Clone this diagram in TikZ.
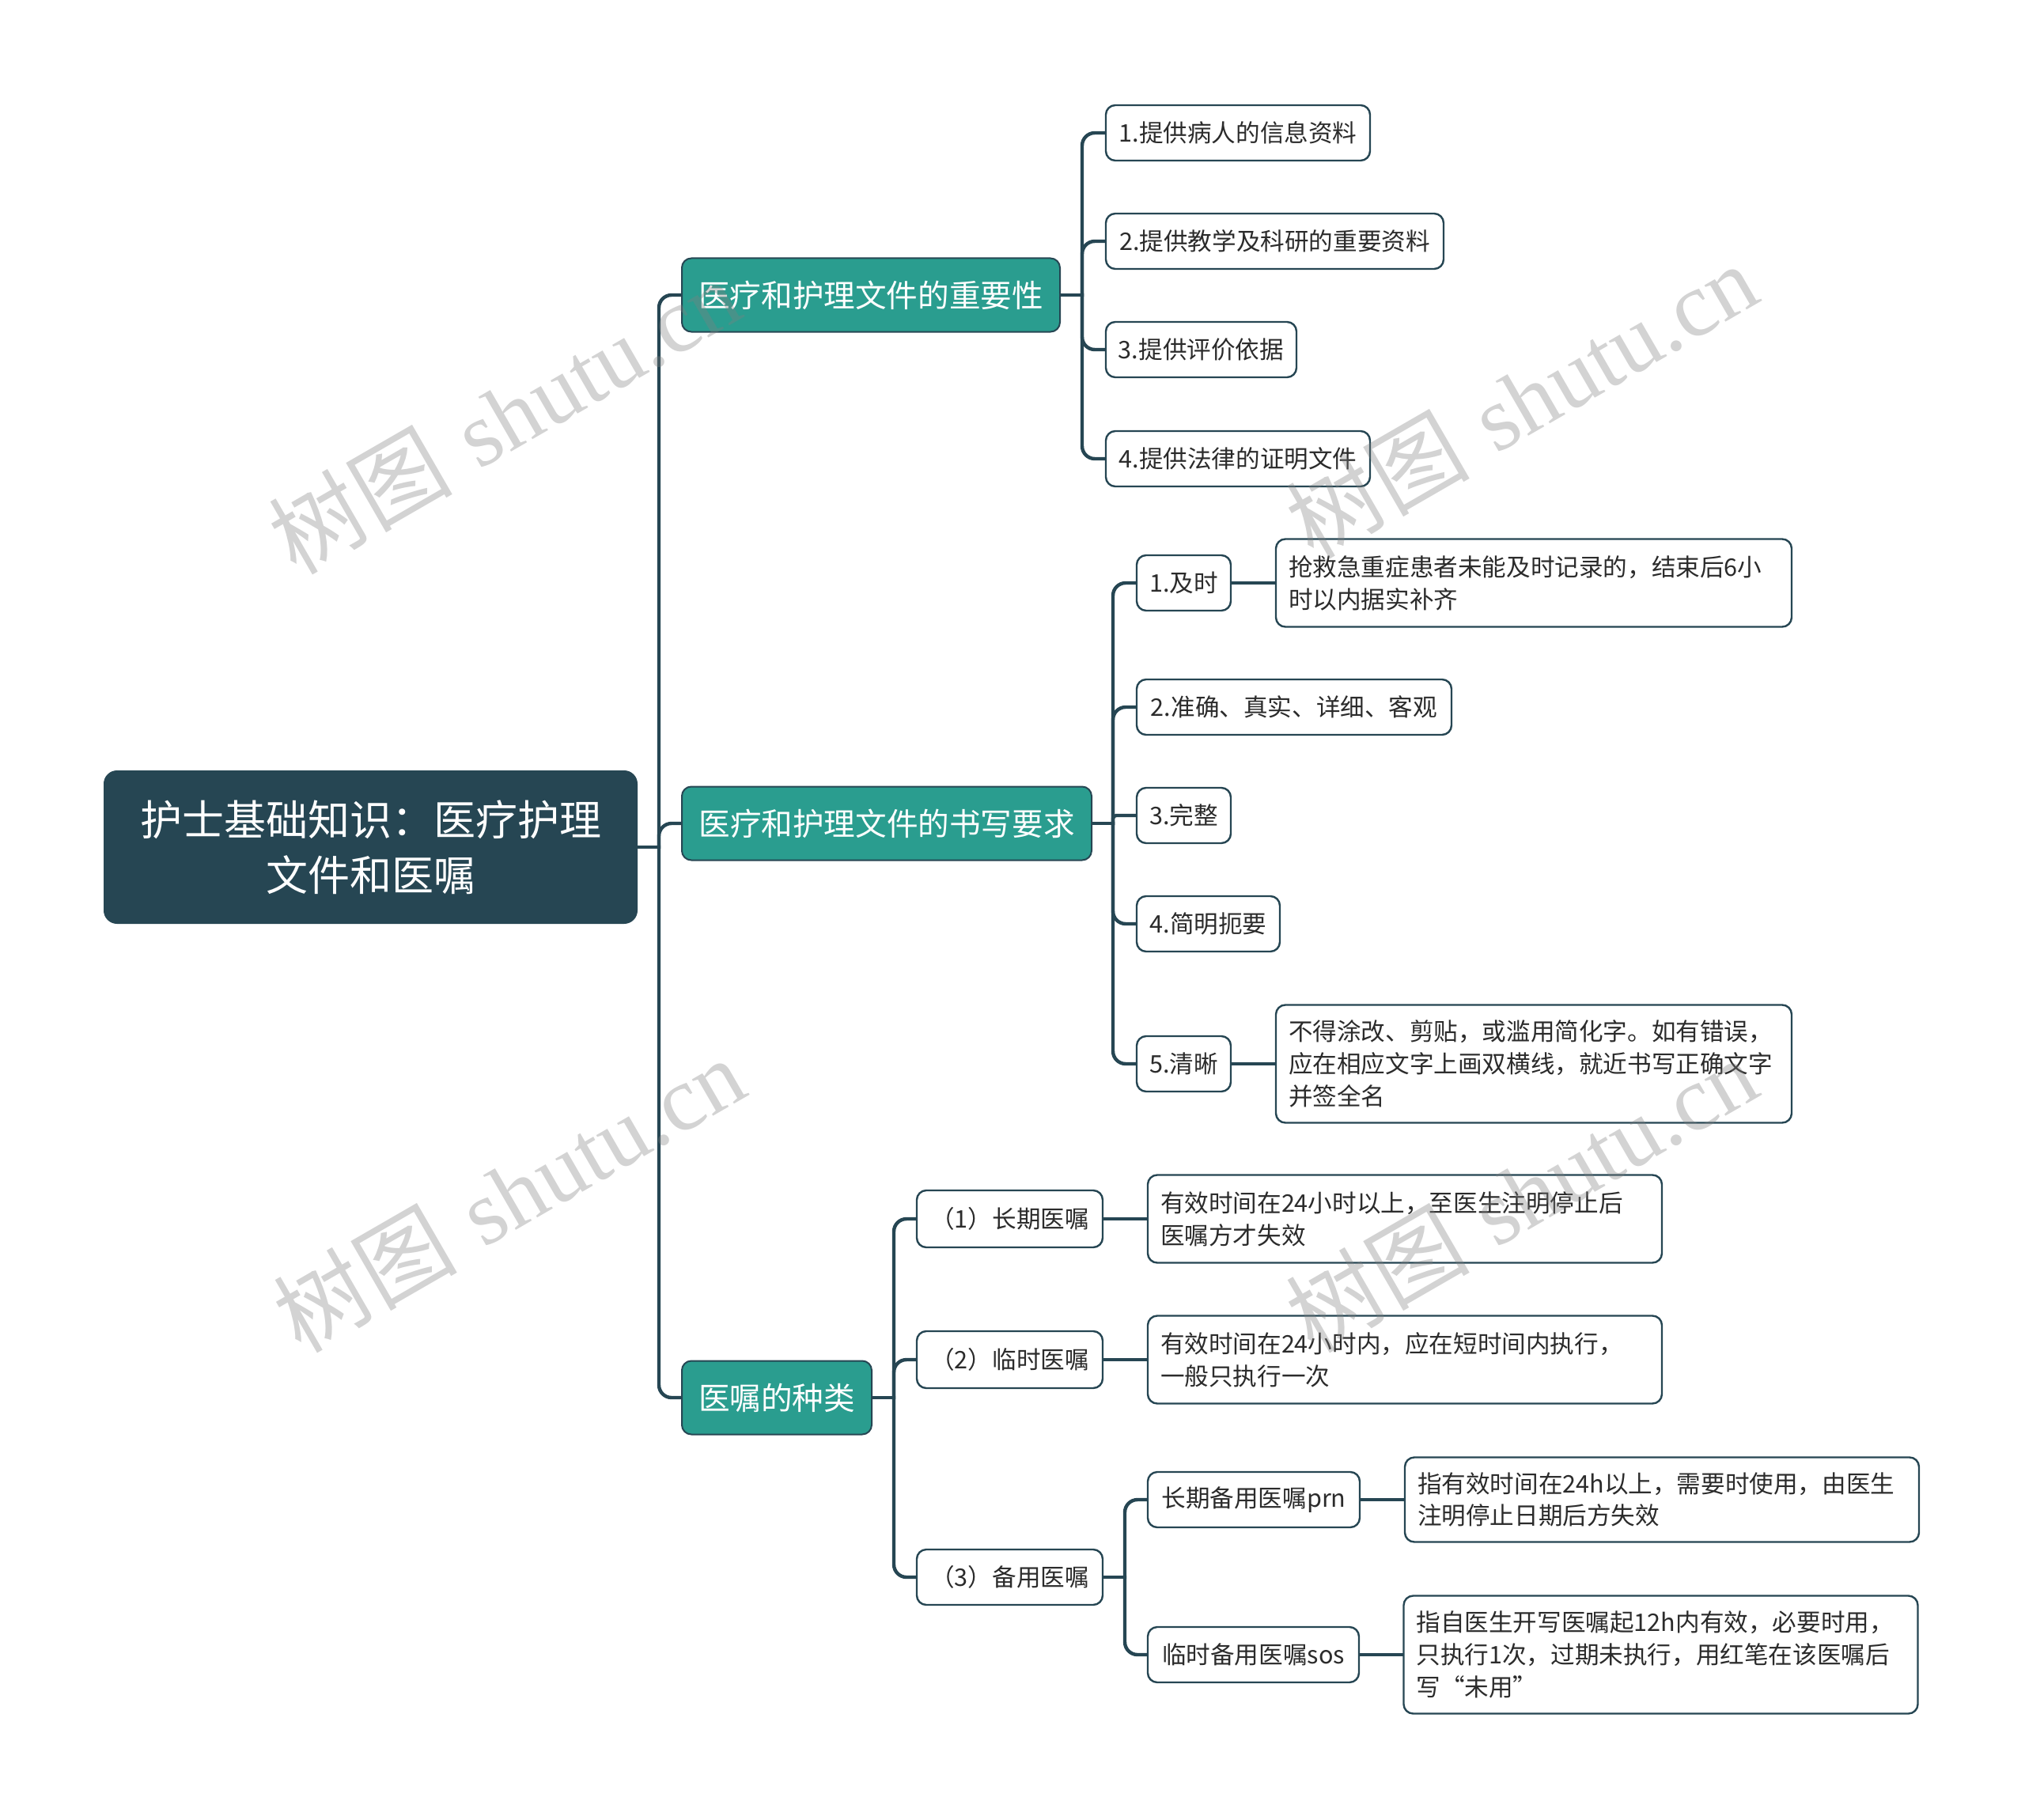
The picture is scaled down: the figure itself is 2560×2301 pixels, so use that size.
\documentclass[tikz,border=0pt]{standalone}
\usepackage{fontspec}
\usetikzlibrary{backgrounds}
\newfontfamily\cjk{Noto Sans CJK SC}
\newfontfamily\wmserif{Liberation Serif}
\definecolor{dark}{HTML}{264653}
\definecolor{tealx}{HTML}{2A9D8F}
\definecolor{txt}{HTML}{2B2B2B}
\begin{document}
\begin{tikzpicture}[x=0.5pt,y=-0.5pt,
  rootbox/.style={draw=dark, fill=dark, rounded corners=8pt, text=white, font=\cjk\fontsize{26.5}{35}\selectfont, align=center, line width=1pt, inner sep=0pt},
  l1box/.style={draw=dark, fill=tealx, rounded corners=6pt, text=white, font=\cjk\fontsize{19.8}{24}\selectfont, minimum height=46.5pt, inner sep=0pt, line width=1pt},
  leaf/.style={draw=dark, fill=white, rounded corners=6pt, text=txt, font=\cjk\fontsize{15.3}{20.4}\selectfont, minimum height=35pt, inner sep=0pt, line width=1.2pt},
  detail/.style={leaf, text width=310pt, align=left, inner xsep=8pt},
  conn/.style={draw=dark, line width=2.2pt, rounded corners=8pt, line cap=rect},
  wm/.style={rotate=30, text=gray, text opacity=0.35, font=\fontsize{58}{60}\selectfont}
]
\useasboundingbox (0,0) rectangle (2560,2301);

% root and level 1
\node[rootbox, minimum width=336.5pt, minimum height=96pt] (root) at (468.5,1071) {护士基础知识：医疗护理\\文件和医嘱};
\node[l1box, minimum width=239pt] (A) at (1101,373) {医疗和护理文件的重要性};
\node[l1box, minimum width=259pt] (B) at (1121,1041) {医疗和护理文件的书写要求};
\node[l1box, minimum width=120pt] (C) at (982,1767) {医嘱的种类};

% A children
\node[leaf, minimum width=167pt] (A1) at (1565,168) {1.提供病人的信息资料};
\node[leaf, minimum width=213.5pt] (A2) at (1611.5,305) {2.提供教学及科研的重要资料};
\node[leaf, minimum width=120.5pt] (A3) at (1518.5,442) {3.提供评价依据};
\node[leaf, minimum width=167pt] (A4) at (1565,580) {4.提供法律的证明文件};

% B children
\node[leaf, minimum width=59.5pt] (B1) at (1496.5,737) {1.及时};
\node[detail, minimum height=55.5pt] (B1d) at (1939,737) {抢救急重症患者未能及时记录的，结束后6小\\时以内据实补齐};
\node[leaf, minimum width=199pt] (B2) at (1636,894) {2.准确、真实、详细、客观};
\node[leaf, minimum width=59.5pt] (B3) at (1496.5,1031) {3.完整};
\node[leaf, minimum width=90.5pt] (B4) at (1527.5,1168) {4.简明扼要};
\node[leaf, minimum width=59.5pt] (B5) at (1496.5,1345) {5.清晰};
\node[detail, minimum height=74.5pt] (B5d) at (1939,1345) {不得涂改、剪贴，或滥用简化字。如有错误，\\应在相应文字上画双横线，就近书写正确文字\\并签全名};

% C children
\node[leaf, minimum width=117.5pt, minimum height=36pt] (C1) at (1276.5,1541) {（1）长期医嘱};
\node[detail, text width=309pt, minimum height=55.5pt] (C1d) at (1776,1541) {有效时间在24小时以上，至医生注明停止后\\医嘱方才失效};
\node[leaf, minimum width=117.5pt, minimum height=36pt] (C2) at (1276.5,1719) {（2）临时医嘱};
\node[detail, text width=309pt, minimum height=55.5pt] (C2d) at (1776,1719) {有效时间在24小时内，应在短时间内执行，\\一般只执行一次};
\node[leaf, minimum width=117.5pt] (C3) at (1276.5,1994) {（3）备用医嘱};
\node[leaf, minimum width=134pt] (C3a) at (1585,1896) {长期备用医嘱prn};
\node[detail, text width=309pt, minimum height=53.5pt] (C3ad) at (2101,1896) {指有效时间在24h以上，需要时使用，由医生\\注明停止日期后方失效};
\node[leaf, minimum width=133.5pt] (C3b) at (1584.5,2092) {临时备用医嘱sos};
\node[detail, text width=309pt, minimum height=74.5pt] (C3bd) at (2099.5,2092) {指自医生开写医嘱起12h内有效，必要时用，\\只执行1次，过期未执行，用红笔在该医嘱后\\写“未用”};

% junctions
\coordinate (jR) at (833,1071);
\coordinate (jA) at (1368,373);
\coordinate (jB) at (1407,1041);
\coordinate (jC) at (1130,1767);
\coordinate (jC3) at (1422,1994);

\begin{scope}[on background layer]
\draw[conn] (root.east) -- (jR);
\foreach \n in {A,B,C} \draw[conn] (jR) |- (\n.west);
\draw[conn] (A.east) -- (jA);
\foreach \n in {A1,A2,A3,A4} \draw[conn] (jA) |- (\n.west);
\draw[conn] (B.east) -- (jB);
\foreach \n in {B1,B2,B4,B5} \draw[conn] (jB) |- (\n.west);
\draw[conn, rounded corners=2pt] (jB) |- (B3.west);
\draw[conn] (B1.east) -- (B1d.west);
\draw[conn] (B5.east) -- (B5d.west);
\draw[conn] (C.east) -- (jC);
\foreach \n in {C1,C2,C3} \draw[conn] (jC) |- (\n.west);
\draw[conn] (C1.east) -- (C1d.west);
\draw[conn] (C2.east) -- (C2d.west);
\draw[conn] (C3.east) -- (jC3);
\foreach \n in {C3a,C3b} \draw[conn] (jC3) |- (\n.west);
\draw[conn] (C3a.east) -- (C3ad.west);
\draw[conn] (C3b.east) -- (C3bd.west);
\end{scope}

% watermarks
\node[wm] (w1) at (637,526) {{\cjk 树图} {\wmserif shutu.cn}};
\node[wm] (w2) at (1923,506) {{\cjk 树图} {\wmserif shutu.cn}};
\node[wm] (w3) at (643,1510) {{\cjk 树图} {\wmserif shutu.cn}};
\node[wm] (w4) at (1923,1510) {{\cjk 树图} {\wmserif shutu.cn}};
\end{tikzpicture}
\end{document}
